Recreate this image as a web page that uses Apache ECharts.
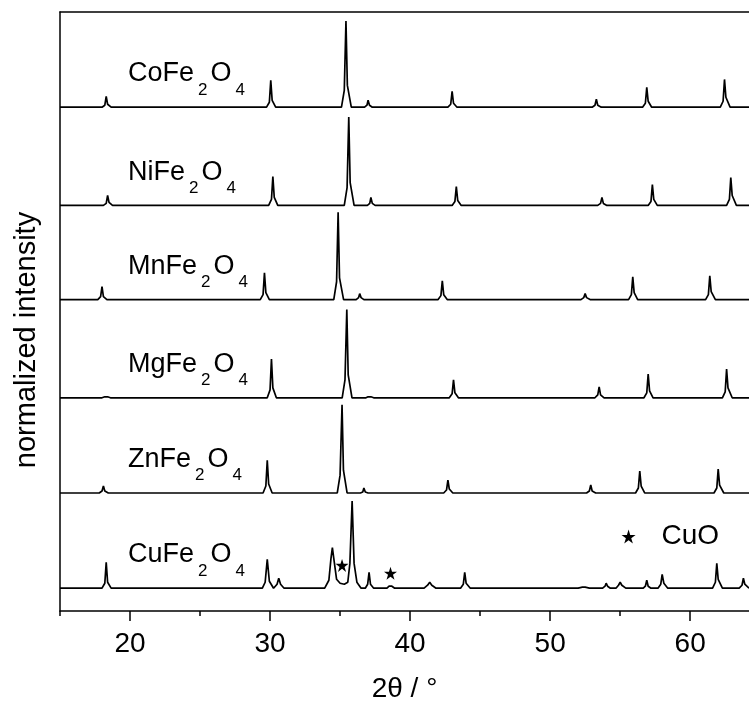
<!DOCTYPE html>
<html>
<head>
<meta charset="utf-8">
<script src="https://cdn.jsdelivr.net/npm/echarts@6/dist/echarts.min.js"></script>
<style>html,body{margin:0;padding:0;background:#fff}#c{width:749px;height:708px}</style>
</head>
<body>
<div id="c"></div>
<script>
// ---- data (2θ in degrees, intensity in arbitrary normalized units) ----
var xTicks = [20, 30, 40, 50, 60];
var xMinorTicks = [15, 25, 35, 45, 55];
var sampleNames = ['CoFe', 'NiFe', 'MnFe', 'MgFe', 'ZnFe', 'CuFe'];

var coFe2O4 = [
[15,0],
[18.0,0],[18.2,2],[18.3,11],[18.4,3],[18.65,0],
[29.75,0],[29.95,5],[30.05,27],[30.15,7],[30.4,0],
[35.1,0],[35.3,17],[35.42,87],[35.52,22],[35.8,0],
[36.75,0],[36.92,2],[37.0,7],[37.1,2],[37.3,0],
[42.7,0],[42.9,3],[43.0,16],[43.1,4],[43.35,0],
[53.0,0],[53.2,2],[53.3,8],[53.4,2],[53.65,0],
[56.6,0],[56.8,4],[56.9,20],[57.0,6],[57.25,0],
[62.15,0],[62.35,6],[62.45,28],[62.55,10],[62.85,0],
[64.2,0]];

var niFe2O4 = [
[15,0],
[18.1,0],[18.3,2],[18.4,10],[18.5,3],[18.75,0],
[29.9,0],[30.1,6],[30.2,29],[30.3,8],[30.55,0],
[35.3,0],[35.5,18],[35.62,89],[35.72,23],[36.0,0],
[36.95,0],[37.12,2],[37.2,8],[37.3,2],[37.5,0],
[43.0,0],[43.2,4],[43.3,19],[43.4,5],[43.65,0],
[53.4,0],[53.6,2],[53.7,8],[53.8,2],[54.05,0],
[57.0,0],[57.2,4],[57.3,21],[57.4,6],[57.65,0],
[62.6,0],[62.8,6],[62.9,28],[63.0,10],[63.3,0],
[64.2,0]];

var mnFe2O4 = [
[15,0],
[17.7,0],[17.9,3],[18.0,13],[18.1,3],[18.35,0],
[29.3,0],[29.5,5],[29.6,27],[29.7,7],[29.95,0],
[34.55,0],[34.75,18],[34.86,88],[34.96,22],[35.25,0],
[36.15,0],[36.32,2],[36.4,6],[36.5,2],[36.7,0],
[42.0,0],[42.2,4],[42.3,19],[42.4,5],[42.65,0],
[52.2,0],[52.4,2],[52.5,6],[52.6,2],[52.85,0],
[55.6,0],[55.8,5],[55.9,23],[56.0,7],[56.25,0],
[61.1,0],[61.3,5],[61.4,24],[61.5,8],[61.8,0],
[64.2,0]];

var mgFe2O4 = [
[15,0],
[18.0,0],[18.2,1],[18.3,3],[18.4,1],[18.6,0],
[29.8,0],[30.0,8],[30.1,39],[30.2,10],[30.45,0],
[35.15,0],[35.35,18],[35.48,89],[35.58,23],[35.85,0],
[36.85,0],[37.0,1],[37.1,2],[37.2,1],[37.4,0],
[42.8,0],[43.0,4],[43.1,18],[43.2,5],[43.45,0],
[53.2,0],[53.4,3],[53.5,11],[53.6,3],[53.85,0],
[56.7,0],[56.9,5],[57.0,24],[57.1,7],[57.35,0],
[62.3,0],[62.5,6],[62.6,29],[62.7,10],[63.0,0],
[64.2,0]];

var znFe2O4 = [
[15,0],
[17.8,0],[18.0,2],[18.1,7],[18.2,2],[18.45,0],
[29.5,0],[29.7,7],[29.8,33],[29.9,9],[30.15,0],
[34.8,0],[35.0,18],[35.14,89],[35.24,23],[35.5,0],
[36.45,0],[36.62,1],[36.7,5],[36.8,1],[37.0,0],
[42.4,0],[42.6,3],[42.7,13],[42.8,4],[43.05,0],
[52.6,0],[52.8,2],[52.9,8],[53.0,2],[53.25,0],
[56.1,0],[56.3,5],[56.4,22],[56.5,7],[56.75,0],
[61.7,0],[61.9,5],[62.0,24],[62.1,8],[62.4,0],
[64.2,0]];

var cuFe2O4 = [
[15,0],
[18.0,0],[18.2,5],[18.3,26],[18.4,6],[18.65,0],
[29.45,0],[29.65,6],[29.8,29],[29.95,7],[30.25,0],
[30.3,1],[30.5,4],[30.62,10],[30.75,4],[31.0,0],
[33.9,0],[34.2,8],[34.35,30],[34.45,41],[34.55,30],[34.75,9],[35.0,5],[35.3,4],[35.55,6],[35.7,25],[35.86,88],[36.0,25],[36.2,6],[36.5,0],
[36.8,0],[36.97,4],[37.07,16],[37.17,4],[37.4,0],
[38.35,0],[38.5,2],[38.6,4],[38.7,2],[38.9,0],
[41.0,0],[41.25,3],[41.4,6],[41.55,3],[41.85,0],
[43.6,0],[43.8,4],[43.9,16],[44.0,5],[44.3,0],
[52.0,0],[52.3,1],[52.4,2],[52.5,1],[52.8,0],
[53.75,0],[53.92,2],[54.0,5],[54.1,2],[54.3,0],
[54.7,0],[54.88,3],[55.0,6],[55.12,3],[55.4,0],
[56.65,0],[56.8,2],[56.9,8],[57.0,2],[57.2,0],
[57.7,0],[57.9,4],[58.0,14],[58.12,5],[58.4,0],
[61.6,0],[61.8,6],[61.9,25],[62.0,9],[62.3,0],
[63.5,0],[63.7,3],[63.8,10],[63.9,4],[64.2,0]];

// CuO reflections marked with a star in the CuFe2O4 pattern: [2θ, height above baseline]
var cuoMarks = [[35.14, 23], [38.6, 15]];

// ---- layout constants ----
var patterns = [coFe2O4, niFe2O4, mnFe2O4, mgFe2O4, znFe2O4, cuFe2O4];
var offsets = [508, 409, 314, 215, 119, 23];
var labelX = 19.85, labelAbove = 24;
var cuoLegend = [55.6, 75];
var starPath = 'path://M50,0 L61.2,34.5 L97.6,34.5 L68.2,55.9 L79.4,90.5 L50,69.1 L20.6,90.5 L31.8,55.9 L2.4,34.5 L38.8,34.5 Z';
var FONT = '"Liberation Sans", Arial, Helvetica, sans-serif';
var XMIN = 15, XMAX = 64.2;

var chart = echarts.init(document.getElementById('c'), null, {renderer: 'canvas'});

var series = patterns.map(function (p, i) {
  return {
    type: 'line', xAxisIndex: 0, yAxisIndex: 0,
    data: p.map(function (d) { return [d[0], d[1] + offsets[i]]; }),
    showSymbol: false, symbol: 'none', smooth: false,
    lineStyle: {color: '#000', width: 1.7},
    silent: true, animation: false, z: 3
  };
});
series.push({
  type: 'scatter', xAxisIndex: 0, yAxisIndex: 0,
  data: cuoMarks.map(function (d) { return [d[0], d[1] + offsets[5]]; }),
  symbol: starPath, symbolSize: 13, itemStyle: {color: '#000', opacity: 1}, animation: false, silent: true
});
series.push({
  type: 'scatter', xAxisIndex: 0, yAxisIndex: 0,
  data: [cuoLegend],
  symbol: starPath, symbolSize: 14, itemStyle: {color: '#000', opacity: 1}, animation: false, silent: true,
  label: {show: true, position: 'right', distance: 26, formatter: 'CuO', fontSize: 28, fontFamily: FONT, color: '#000', opacity: 1}
});

var axisLineStyle = {color: '#000', width: 1.5};
chart.setOption({
  backgroundColor: '#fff',
  animation: false,
  grid: {left: 60, right: 0, top: 12, bottom: 92, containLabel: false},
  xAxis: [
    {
      type: 'value', min: XMIN, max: XMAX, position: 'bottom',
      axisLine: {show: true, onZero: false, lineStyle: axisLineStyle},
      axisTick: {show: true, customValues: xTicks, length: 10, inside: false, lineStyle: axisLineStyle},
      axisLabel: {show: true, customValues: xTicks, fontSize: 28, fontFamily: FONT, color: '#000', margin: 19},
      splitLine: {show: false},
      name: '2θ / °', nameLocation: 'middle', nameGap: 64,
      nameTextStyle: {fontSize: 28, fontFamily: FONT, color: '#000'}
    },
    {
      type: 'value', min: XMIN, max: XMAX, position: 'bottom',
      axisLine: {show: false, onZero: false},
      axisTick: {show: true, customValues: xMinorTicks, length: 5, inside: false, lineStyle: axisLineStyle},
      axisLabel: {show: false},
      splitLine: {show: false}
    },
    {
      type: 'value', min: XMIN, max: XMAX, position: 'top',
      axisLine: {show: true, onZero: false, lineStyle: axisLineStyle},
      axisTick: {show: false}, axisLabel: {show: false}, splitLine: {show: false}
    }
  ],
  yAxis: [{
    type: 'value', min: 0, max: 604, position: 'left',
    axisLine: {show: true, onZero: false, lineStyle: axisLineStyle},
    axisTick: {show: false}, axisLabel: {show: false}, splitLine: {show: false}
  }],
  series: series
});

// sample labels with subscripts + y-axis title
var graphics = [];
sampleNames.forEach(function (nm, i) {
  var pt = chart.convertToPixel({gridIndex: 0}, [labelX, offsets[i] + labelAbove]);
  graphics.push({
    type: 'text', x: pt[0], y: pt[1] - 23, silent: true, z: 10,
    style: {
      text: '{m|' + nm + '}{s|2}{m|O}{s|4}',
      fill: '#000', align: 'left', verticalAlign: 'top',
      rich: {
        m: {fontSize: 27, fontFamily: FONT, lineHeight: 28, verticalAlign: 'top', fill: '#000'},
        s: {fontSize: 17, fontFamily: FONT, lineHeight: 38, verticalAlign: 'bottom', padding: [0, 3, 0, 4], fill: '#000'}
      }
    }
  });
});
graphics.push({
  type: 'text', x: 27, y: 340, rotation: Math.PI / 2, silent: true,
  style: {text: 'normalized intensity', fontSize: 29, fontFamily: FONT, fill: '#000', align: 'center', verticalAlign: 'middle'}
});
chart.setOption({graphic: graphics});
</script>
</body>
</html>
